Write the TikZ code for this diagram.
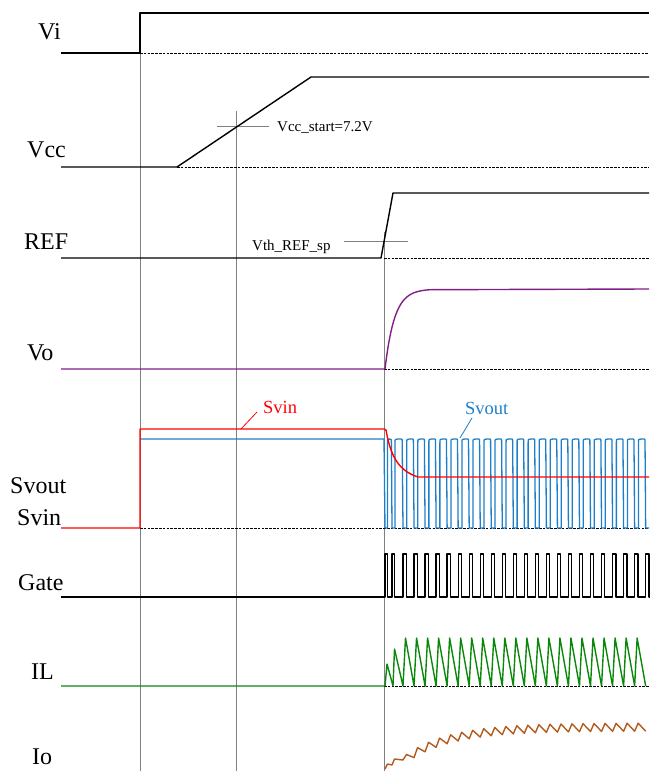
\documentclass[tikz,border=0pt]{standalone}
\usepackage{fontspec}
\setmainfont{Liberation Serif}
\definecolor{vopurple}{HTML}{7F1F87}
\definecolor{svred}{HTML}{FF0000}
\definecolor{svblue}{HTML}{1E7EC8}
\definecolor{ilgreen}{HTML}{0A880A}
\definecolor{iobrown}{HTML}{B35A1C}
\definecolor{guide}{HTML}{808080}
\begin{document}
\begin{tikzpicture}[x=1pt,y=-1pt,
  sig/.style={line width=1.4pt, line join=round},
  base/.style={black, line width=0.6pt, dash pattern=on 2.5pt off 1.3pt},
  guideline/.style={guide, line width=0.9pt},
  biglabel/.style={anchor=base west, inner sep=0pt, font=\fontsize{24}{28}\selectfont},
  smalllabel/.style={anchor=base west, inner sep=0pt, font=\fontsize{15}{18}\selectfont},
  midlabel/.style={anchor=base west, inner sep=0pt, font=\fontsize{18.5}{22}\selectfont}]
\useasboundingbox (0,0) rectangle (649,771);

% guide lines
\draw[guideline] (140,53) -- (140,771);
\draw[guideline] (236,111) -- (236,771);
\draw[guideline] (384,232) -- (384,771);
\draw[guideline] (217,126) -- (269,126);
\draw[guideline] (344,241) -- (408,241);

% dashed baselines
\draw[base] (140,53) -- (649,53);
\draw[base] (177,167) -- (649,167);
\draw[base] (384,258) -- (649,258);
\draw[base] (384,369) -- (649,369);
\draw[base] (140,528) -- (649,528);
\draw[base] (384,686) -- (649,686);

% labels
\node[biglabel] (lvi) at (38,39) {Vi};
\node[biglabel] (lvcc) at (27,157) {Vcc};
\node[biglabel] (lref) at (24,249) {REF};
\node[biglabel] (lvo) at (27,360) {Vo};
\node[biglabel] (lsvout) at (10,493) {Svout};
\node[biglabel] (lsvin) at (17,525) {Svin};
\node[biglabel] (lgate) at (18,590) {Gate};
\node[biglabel] (lil) at (31,679) {IL};
\node[biglabel] (lio) at (32,764) {Io};
\node[smalllabel] (vccstart) at (277,131) {Vcc\_start=7.2V};
\node[smalllabel] (vthref) at (252,250) {Vth\_REF\_sp};
\node[midlabel, text=svred] (tsvin) at (263,413) {Svin};
\node[midlabel, text=svblue] (tsvout) at (465,414) {Svout};
\coordinate (svinpt) at (241,429);
\coordinate (svoutpt) at (460,438);
\draw[svred, line width=0.8pt] (257,412) -- (svinpt);
\draw[svblue, line width=0.8pt] (472,418) -- (svoutpt);

% Vi
\draw[sig] (61,53) -- (140,53) -- (140,13) -- (649,13);
% Vcc
\draw[sig] (61,167) -- (177,167) -- (311,77) -- (649,77);
% REF
\draw[sig] (61,258) -- (381,258) -- (393,193) -- (649,193);
% Vo
\draw[sig, vopurple] (61,369) -- (385,369) -- plot[domain=0:45, samples=60] ({385+\x},{289+80*exp(-\x/9.5)}) -- (649,289);

% Svout (blue)
\draw[sig, svblue, line width=1.3pt] (140,439) -- (384,439) -- (385,528) -- (387.5,528) -- (387.5,443)
  .. controls (387.5,439) .. (389.5,439) .. controls (391.4,439) .. (391.4,443) -- (392,528) -- (395,528)
  -- (395,443) .. controls (395,439) .. (397.7,439) -- (401.2,439) .. controls (402.2,439) .. (402.2,443) -- (403,528)
  \foreach \k [evaluate=\k as \xg using 403+11.03*\k] in {0,...,21} {
    -- ({\xg+3.8},528) -- ({\xg+3.8},443) .. controls ({\xg+3.8},439) .. ({\xg+6.5},439)
    -- ({\xg+9.6},439) .. controls ({\xg+10.4},439) .. ({\xg+10.4},443) -- ({\xg+11.03},528)
  } -- (649,528);

% Svin (red)
\draw[sig, svred] (61,528) -- (140,528) -- (140,429) -- (384,429) -- (386,430)
  .. controls (390,452) and (396,470) .. (418,477) -- (649,477);

% Gate
\draw[sig, line width=1.3pt] (61,597) -- (385,597) -- (385,554) -- (387.2,554) -- (387.2,597)
  -- (392,597) -- (392,554) -- (394.5,554) -- (394.5,597)
  \foreach \k [evaluate=\k as \xg using 403+11.03*\k] in {0,...,22} {
    -- (\xg,597) -- (\xg,554) -- ({\xg+3.3},554) -- ({\xg+3.3},597)
  } -- (649,597);

% IL
\draw[sig, ilgreen] (61,686) -- (385,686) -- (387,664) -- (393,686) -- (394.5,649) -- (403,686)
  \foreach \k [evaluate=\k as \xg using 403+11.03*\k] in {0,...,21} {
    -- ({\xg+2.5},638) -- ({\xg+11.03},686)
  };

% Io
\draw[sig, iobrown] (385,769) -- (387.5,764) -- (392,765) -- (394.5,759) -- (403,760)
  \foreach \k [evaluate=\k as \xg using 403+11.03*\k] in {0,...,21} {
    -- ({\xg+3.5},{727+34*exp(-(\xg+3.5-403)/45)-4}) -- ({\xg+11.03},{727+34*exp(-(\xg+11.03-403)/45)+4})
  };
\end{tikzpicture}
\end{document}
